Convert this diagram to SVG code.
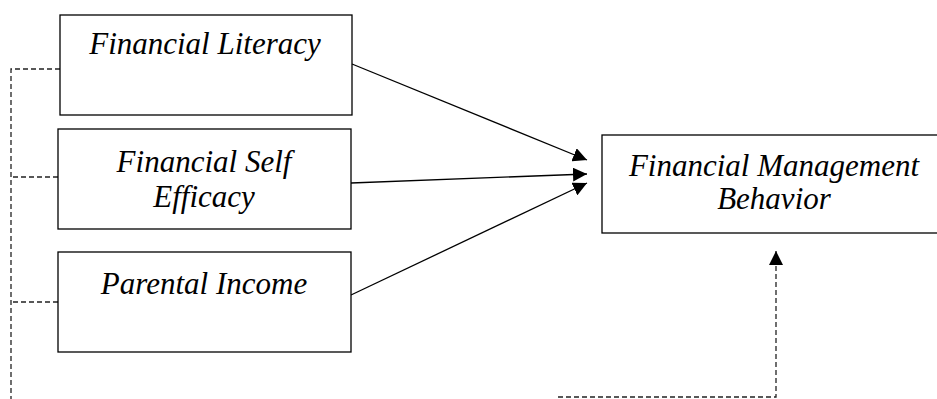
<svg xmlns="http://www.w3.org/2000/svg" width="937" height="399" viewBox="0 0 937 399">
<style>
.box{fill:#fff;stroke:#000;stroke-width:1.3}
.lbl{font-family:"Liberation Serif","Times New Roman",serif;font-style:italic;font-size:31px;fill:#000;text-anchor:middle}
.solid{stroke:#000;stroke-width:1.3;fill:none}
.dash{stroke:#222;stroke-width:1.3;fill:none;stroke-dasharray:5 3}
</style>
<defs>
<marker id="ah" viewBox="0 0 10 10" refX="10" refY="5" markerWidth="14" markerHeight="14" markerUnits="userSpaceOnUse" orient="auto">
<path d="M0,0 L10,5 L0,10 Z" fill="#000"/>
</marker>
</defs>
<g id="connectors">
<line class="solid" x1="352" y1="64" x2="587" y2="160" marker-end="url(#ah)"/>
<line class="solid" x1="351" y1="183" x2="587" y2="174" marker-end="url(#ah)"/>
<line class="solid" x1="351" y1="295" x2="587" y2="183" marker-end="url(#ah)"/>
<path class="dash" d="M60,69 H11 V399"/>
<path class="dash" d="M58,177 H11"/>
<path class="dash" d="M58,302 H11"/>
<path class="dash" d="M558,397 H776 V251" marker-end="url(#ah)"/>
</g>
<g id="n1">
<rect class="box" x="60" y="15" width="292" height="100"/>
<text class="lbl" x="205" y="54">Financial Literacy</text>
</g>
<g id="n2">
<rect class="box" x="58" y="129" width="293" height="100"/>
<text class="lbl" x="204" y="172">Financial Self</text>
<text class="lbl" x="204" y="207">Efficacy</text>
</g>
<g id="n3">
<rect class="box" x="58" y="252" width="293" height="100"/>
<text class="lbl" x="204" y="294">Parental Income</text>
</g>
<g id="n4">
<rect class="box" x="602" y="135" width="345" height="98"/>
<text class="lbl" x="774" y="176">Financial Management</text>
<text class="lbl" x="774" y="209">Behavior</text>
</g>
</svg>
